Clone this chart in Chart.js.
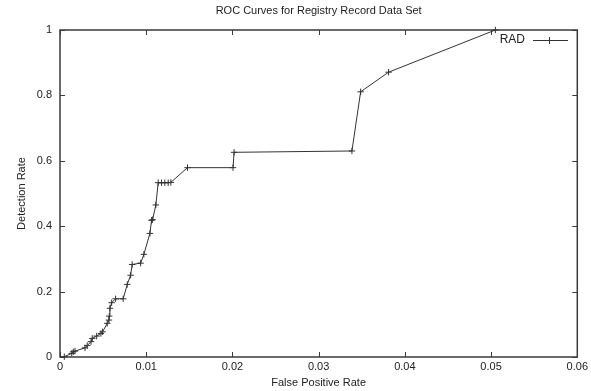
<!DOCTYPE html>
<html>
<head>
<meta charset="utf-8">
<script src="https://cdn.jsdelivr.net/npm/chart.js@4.4.1/dist/chart.umd.min.js"></script>
<style>
html,body{margin:0;padding:0;background:#fff;}
#wrap{width:591px;height:391px;position:relative;}
</style>
</head>
<body>
<div id="wrap"><canvas id="c" width="591" height="391"></canvas></div>
<script>
const chartTitle = "ROC Curves for Registry Record Data Set";
const xAxisTitle = "False Positive Rate";
const yAxisTitle = "Detection Rate";
const seriesName = "RAD";
const fpr = [0.0005,0.00136,0.00154,0.00174,0.0029,0.00316,0.0036,0.00374,0.00425,0.00475,0.00494,0.00548,0.00568,0.00571,0.00579,0.00599,0.00645,0.00733,0.0078,0.00819,0.00837,0.00935,0.00973,0.01043,0.01062,0.01074,0.01112,0.01139,0.01178,0.01216,0.01255,0.01286,0.01479,0.02007,0.02019,0.03386,0.03487,0.03811,0.0505];
const detectionRate = [0.001,0.011,0.016,0.018,0.028,0.035,0.047,0.057,0.064,0.072,0.077,0.103,0.113,0.125,0.149,0.166,0.178,0.178,0.222,0.25,0.283,0.287,0.314,0.378,0.418,0.42,0.465,0.533,0.533,0.533,0.533,0.534,0.579,0.579,0.626,0.63,0.811,0.871,1.0];
const xTickValues = [0,0.01,0.02,0.03,0.04,0.05,0.06];
const xTickLabels = ["0","0.01","0.02","0.03","0.04","0.05","0.06"];
const yTickValues = [0,0.2,0.4,0.6,0.8,1];
const yTickLabels = ["0","0.2","0.4","0.6","0.8","1"];

const FONT = "'Liberation Sans', Arial, Helvetica, sans-serif";
const AXIS_COLOR = "#3a3a3a";
const LINE_COLOR = "#333";

const framePlugin = {
  id: 'frame',
  afterDraw(chart) {
    const ctx = chart.ctx;
    const a = chart.chartArea;
    const xs = chart.scales.x, ys = chart.scales.y;
    ctx.save();
    ctx.strokeStyle = AXIS_COLOR;
    ctx.lineWidth = 1.5;
    ctx.strokeRect(a.left, a.top, a.right - a.left, a.bottom - a.top);
    ctx.lineWidth = 1;
    const tl = 5;
    ctx.beginPath();
    xTickValues.forEach(v => {
      const p = Math.round(xs.getPixelForValue(v)) + 0.5;
      ctx.moveTo(p, a.bottom); ctx.lineTo(p, a.bottom - tl);
      ctx.moveTo(p, a.top); ctx.lineTo(p, a.top + tl);
    });
    yTickValues.forEach(v => {
      const p = Math.round(ys.getPixelForValue(v)) + 0.5;
      ctx.moveTo(a.left, p); ctx.lineTo(a.left + tl, p);
      ctx.moveTo(a.right, p); ctx.lineTo(a.right - tl, p);
    });
    ctx.stroke();
    // titles
    ctx.fillStyle = "#222";
    ctx.font = "11px " + FONT;
    ctx.textAlign = "center";
    ctx.textBaseline = "middle";
    const cx = (a.left + a.right) / 2;
    ctx.fillText(chartTitle, cx, 11);
    ctx.fillText(xAxisTitle, cx, 383);
    ctx.save();
    ctx.translate(22, (a.top + a.bottom) / 2);
    ctx.rotate(-Math.PI / 2);
    ctx.fillText(yAxisTitle, 0, 0);
    ctx.restore();
    // legend
    const ly = 40;
    ctx.font = "12px " + FONT;
    ctx.textAlign = "right";
    ctx.fillText(seriesName, 525, ly);
    ctx.strokeStyle = LINE_COLOR;
    ctx.beginPath();
    ctx.moveTo(533, ly + 0.5); ctx.lineTo(568, ly + 0.5);
    ctx.moveTo(549.5, ly - 3); ctx.lineTo(549.5, ly + 4);
    ctx.moveTo(546, ly + 0.5); ctx.lineTo(553, ly + 0.5);
    ctx.stroke();
    ctx.restore();
  }
};

new Chart(document.getElementById('c'), {
  type: 'scatter',
  data: {
    datasets: [{
      label: seriesName,
      data: fpr.map((x, i) => ({x: x, y: detectionRate[i]})),
      showLine: true,
      borderColor: LINE_COLOR,
      borderWidth: 1,
      pointStyle: 'cross',
      pointRadius: 3.2,
      pointBorderColor: LINE_COLOR,
      pointBorderWidth: 1,
      pointBackgroundColor: LINE_COLOR,
      tension: 0,
      clip: false
    }]
  },
  options: {
    responsive: false,
    animation: false,
    devicePixelRatio: 1,
    layout: { padding: { left: 0, right: 13, top: 30, bottom: 0 } },
    plugins: { legend: { display: false }, title: { display: false }, tooltip: { enabled: false } },
    scales: {
      x: {
        type: 'linear', min: 0, max: 0.06,
        afterBuildTicks: s => { s.ticks = xTickValues.map(v => ({value: v})); },
        afterFit: s => { s.height = 34; },
        grid: { display: false, drawTicks: false },
        border: { display: false },
        ticks: {
          padding: 3,
          color: "#222",
          font: { family: FONT, size: 11 },
          callback: (v, i) => xTickLabels[i],
          maxRotation: 0, autoSkip: false
        }
      },
      y: {
        type: 'linear', min: 0, max: 1,
        afterBuildTicks: s => { s.ticks = yTickValues.map(v => ({value: v})); },
        afterFit: s => { s.width = 60; },
        grid: { display: false, drawTicks: false },
        border: { display: false },
        ticks: {
          padding: 8,
          color: "#222",
          font: { family: FONT, size: 11 },
          callback: (v, i) => yTickLabels[i],
          autoSkip: false
        }
      }
    }
  },
  plugins: [framePlugin]
});
</script>
</body>
</html>
